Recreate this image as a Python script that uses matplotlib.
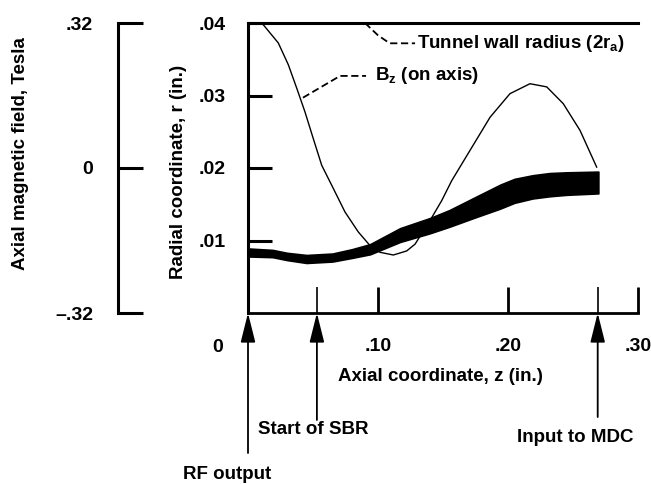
import matplotlib
matplotlib.use("Agg")
import matplotlib.pyplot as plt
from matplotlib.patches import ArrowStyle

plt.rcParams['font.family'] = ['Liberation Sans', 'DejaVu Sans']
plt.rcParams['font.weight'] = 'bold'
plt.rcParams['axes.labelweight'] = 'bold'
plt.rcParams['font.size'] = 13.5
plt.rcParams['mathtext.fontset'] = 'custom'
plt.rcParams['mathtext.rm'] = 'Liberation Sans:bold'
plt.rcParams['mathtext.it'] = 'Liberation Sans:bold'
plt.rcParams['mathtext.bf'] = 'Liberation Sans:bold'

# axial field on axis (Tesla) vs z (in.)
bz_z = [0.009, 0.0118, 0.0233, 0.0310, 0.0375, 0.0438, 0.0502, 0.0567, 0.0656,
        0.0746, 0.0848, 0.0938, 0.1015, 0.1118, 0.1221, 0.1285, 0.140, 0.149,
        0.1567, 0.1708, 0.1862, 0.2015, 0.2169, 0.2298, 0.2425, 0.2554, 0.2682]
bz_val = [0.320, 0.316, 0.276, 0.228, 0.176, 0.124, 0.065, 0.006, -0.045,
          -0.097, -0.141, -0.171, -0.186, -0.192, -0.183, -0.168, -0.116, -0.072,
          -0.028, 0.039, 0.112, 0.164, 0.186, 0.179, 0.142, 0.083, 0.002]

# beam envelope (radial coordinate, in.)
beam_z = [0.0, 0.019, 0.030, 0.045, 0.065, 0.080, 0.094, 0.117, 0.140, 0.155,
          0.175, 0.194, 0.205, 0.219, 0.232, 0.245, 0.2695]
beam_lo = [0.0078, 0.0077, 0.0073, 0.0069, 0.0071, 0.0076, 0.0081, 0.0098, 0.0110, 0.0119,
           0.0132, 0.0144, 0.0152, 0.0158, 0.0161, 0.0163, 0.0165]
beam_hi = [0.0089, 0.0087, 0.0083, 0.0080, 0.0082, 0.0088, 0.0095, 0.0117, 0.0131, 0.0142,
           0.0160, 0.0177, 0.0185, 0.0190, 0.0193, 0.0194, 0.0195]

# tunnel wall radius
wall_z = [0.0, 0.30]
wall_r = [0.04, 0.04]

# marker positions along z
markers = {'RF output': 0.0, 'Start of SBR': 0.053, 'Input to MDC': 0.269}

fig = plt.figure(figsize=(6.51, 4.84), dpi=100)
ax = fig.add_axes([248 / 651, 171 / 484, 390 / 651, 290 / 484])

ax.fill_between(beam_z, beam_lo, beam_hi, color='black', lw=1.2)
ax.plot(wall_z, wall_r, color='black', lw=2.2, clip_on=False)

ax.set_xlim(0, 0.30)
ax.set_ylim(0, 0.04)
for s in ['top', 'right']:
    ax.spines[s].set_visible(False)
ax.spines['left'].set_linewidth(2.2)
ax.spines['bottom'].set_linewidth(2.0)

ax.set_xticks([0.10, 0.20, 0.30], ['.10', '.20', '.30'])
ax.set_xticks([markers['Start of SBR'], markers['Input to MDC']], minor=True)
ax.tick_params(axis='x', which='major', direction='in', length=19, width=2.0, pad=18,
               labelsize=14)
ax.tick_params(axis='x', which='minor', direction='in', length=19, width=1.2)
ax.set_yticks([0.01, 0.02, 0.03, 0.04], ['.01', '.02', '.03', '.04'])
ax.tick_params(axis='y', direction='in', length=17, width=2.2, pad=16, labelsize=14)
ax.text(-0.023, -0.0048, '0', ha='center', va='center', fontsize=14)

ax.set_ylabel('Radial coordinate, r (in.)')
ax.yaxis.set_label_coords(-0.157, 0.485)
ax.text(0.148, -0.0088, 'Axial coordinate, z (in.)', ha='center', va='center')

# arrows for locations
tails = {'RF output': 140, 'Start of SBR': 107, 'Input to MDC': 104}
for name, z in markers.items():
    ax.annotate('', xy=(z, 0), xytext=(0, -tails[name]), textcoords='offset pixels',
                arrowprops=dict(arrowstyle=ArrowStyle('-|>', head_length=1.8, head_width=0.45),
                                mutation_scale=10, color='black', lw=1.3,
                                shrinkA=0, shrinkB=0),
                annotation_clip=False)
ax.text(-0.050, -0.0223, 'RF output', ha='left', va='center')
ax.text(0.0077, -0.0161, 'Start of SBR', ha='left', va='center')
ax.text(0.207, -0.0172, 'Input to MDC', ha='left', va='center')

# labels with leaders
ax.plot([0.090, 0.100, 0.109, 0.1285], [0.0400, 0.0383, 0.0372, 0.0372],
        color='black', lw=1.3, ls=(0, (4, 2)), clip_on=False)
ax.text(0.130, 0.0372, 'Tunnel wall radius (2r$_a$)', ha='left', va='center')
ax.plot([0.0423, 0.0708, 0.0908], [0.0297, 0.0327, 0.0327],
        color='black', lw=1.3, ls=(0, (4, 2)))
ax.text(0.0975, 0.0327, 'B$_z$ (on axis)', ha='left', va='center')

# magnetic field scale on the far left
ax2 = ax.twinx()
ax2.plot(bz_z, bz_val, color='black', lw=1.0)
ax2.set_ylim(-0.32, 0.32)
ax2.yaxis.tick_left()
ax2.yaxis.set_label_position('left')
for s in ['top', 'right', 'bottom']:
    ax2.spines[s].set_visible(False)
ax2.spines['left'].set_visible(True)
ax2.spines['left'].set_position(('axes', -0.333))
ax2.spines['left'].set_linewidth(2.2)
ax2.set_yticks([-0.32, 0.0, 0.32], ['\u2013.32', '0', '.32'])
ax2.tick_params(axis='y', direction='in', length=18, width=2.2, pad=18, labelsize=14)
ax2.set_ylabel('Axial magnetic field, Tesla')
ax2.yaxis.set_label_coords(-0.562, 0.55)

fig.savefig('out.png', dpi=100)
